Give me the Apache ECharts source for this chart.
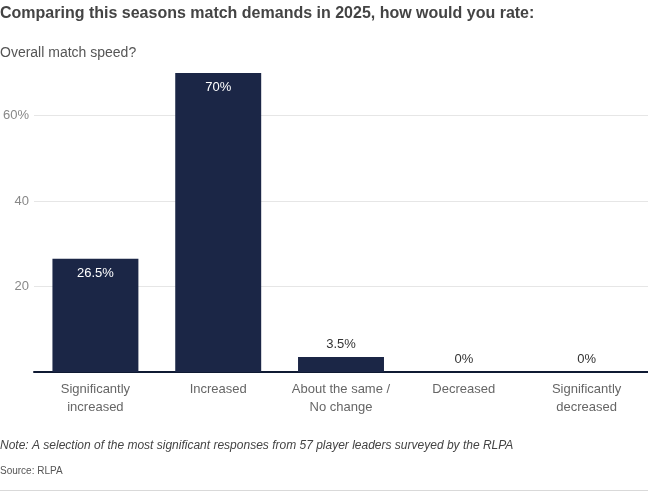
<!DOCTYPE html>
<html><head><meta charset="utf-8">
<script src="https://cdn.jsdelivr.net/npm/echarts@6/dist/echarts.min.js"></script>
<style>html,body{margin:0;padding:0;background:#fff}#c{width:648px;height:492px}</style>
</head><body><div id="c"></div>
<script>
var categories = ["Significantly\nincreased", "Increased", "About the same /\nNo change", "Decreased", "Significantly\ndecreased"];
var values = [26.5, 70, 3.5, 0, 0];
var valueLabels = ["26.5%", "70%", "3.5%", "0%", "0%"];
var yTicks = [20, 40, 60];

var FONT = "'Liberation Sans', Arial, sans-serif";
var chart = echarts.init(document.getElementById('c'));
var data = values.map(function (v, i) {
  var inside = v > 10;
  return {
    value: v,
    label: {
      show: true,
      formatter: valueLabels[i],
      position: inside ? 'insideTop' : 'top',
      distance: inside ? 8 : 6,
      color: inside ? '#ffffff' : '#333333',
      fontSize: 13,
      fontFamily: FONT
    }
  };
});
chart.setOption({
  animation: false,
  title: [
    { text: 'Comparing this seasons match demands in 2025, how would you rate:', left: 0, top: 6, padding: 0,
      textStyle: { fontFamily: FONT, fontSize: 16, fontWeight: 'bold', color: '#444' } },
    { text: 'Overall match speed?', left: 0, top: 46, padding: 0,
      textStyle: { fontFamily: FONT, fontSize: 14, fontWeight: 'normal', color: '#555' } },
    { text: 'Note: A selection of the most significant responses from 57 player leaders surveyed by the RLPA', left: 0, top: 440, padding: 0,
      textStyle: { fontFamily: FONT, fontSize: 12, fontStyle: 'italic', fontWeight: 'normal', color: '#444' } },
    { text: 'Source: RLPA', left: 0, top: 466, padding: 0,
      textStyle: { fontFamily: FONT, fontSize: 10, fontWeight: 'normal', color: '#555' } }
  ],
  graphic: [
    { type: 'rect', shape: { x: 0, y: 490, width: 648, height: 1 }, style: { fill: '#d9d9d9' } }
  ],
  grid: { left: 32, right: 0, top: 73, bottom: 120, containLabel: false },
  xAxis: {
    type: 'category', data: categories,
    axisLine: { show: true, lineStyle: { color: '#0f1a33', width: 2 } },
    axisTick: { show: false },
    axisLabel: { color: '#666', fontFamily: FONT, fontSize: 13, lineHeight: 18, margin: 8, interval: 0 }
  },
  yAxis: {
    type: 'value', min: 0, max: 70, interval: 20,
    axisLine: { show: false }, axisTick: { show: false },
    splitLine: { show: true, showMinLine: false, showMaxLine: false, lineStyle: { color: '#e6e6e6', width: 1 } },
    axisLabel: {
      color: '#888', fontFamily: FONT, fontSize: 13, margin: 5,
      showMinLabel: false, showMaxLabel: false,
      formatter: function (v) { return yTicks.indexOf(v) < 0 ? '' : (v === yTicks[yTicks.length - 1] ? v + '%' : String(v)); }
    }
  },
  series: [{
    type: 'bar', data: data, barCategoryGap: '30%',
    itemStyle: { color: '#1b2646' }
  }]
});
</script></body></html>
